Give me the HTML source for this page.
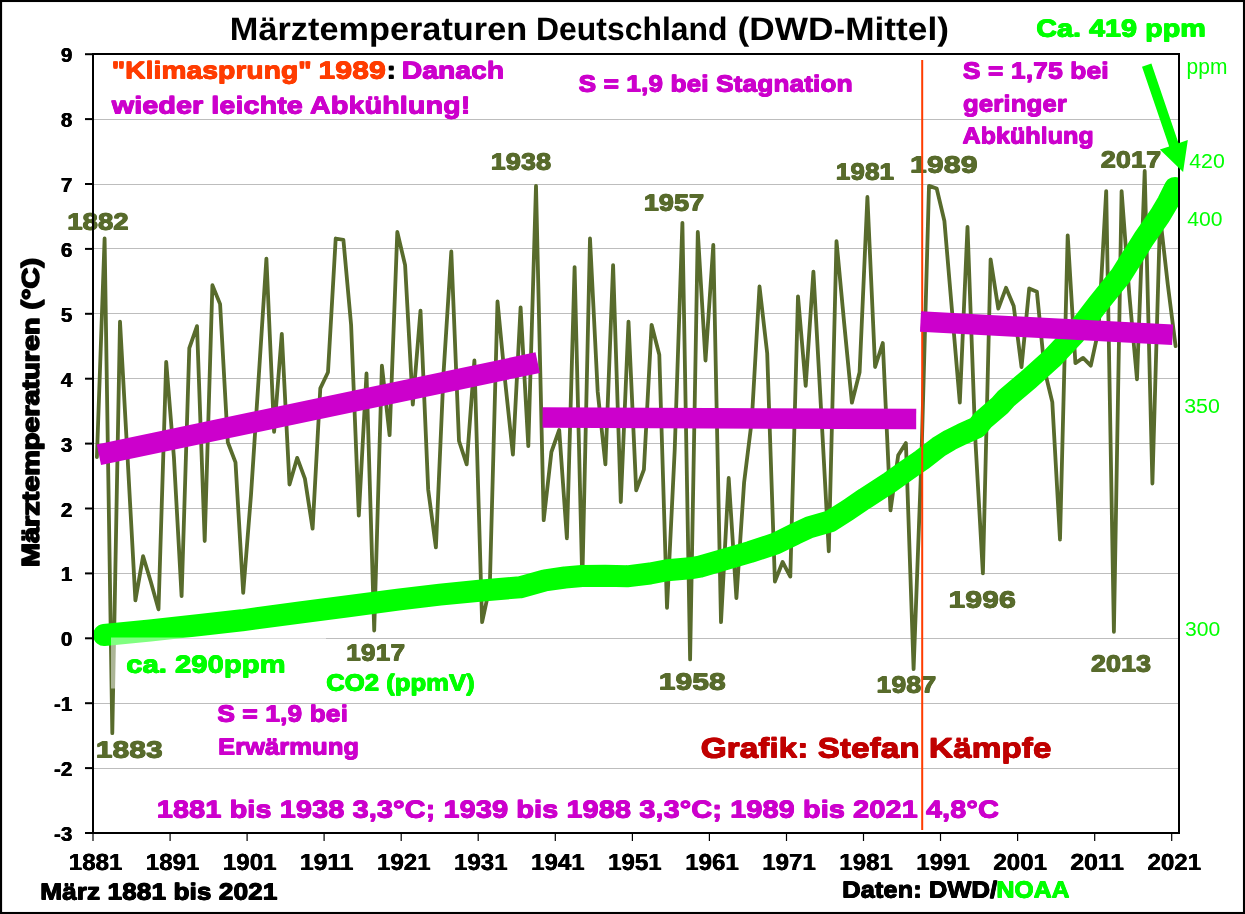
<!DOCTYPE html>
<html><head><meta charset="utf-8"><title>Märztemperaturen Deutschland</title>
<style>
html,body{margin:0;padding:0;background:#fff;}
svg{display:block;font-family:"Liberation Sans",sans-serif;will-change:transform;}
</style></head>
<body>
<svg width="1245" height="914" viewBox="0 0 1245 914">
<defs><clipPath id="plot"><rect x="93" y="54" width="1086" height="779"/></clipPath></defs>
<rect x="0" y="0" width="1245" height="914" fill="#fff"/>
<line x1="94" y1="768.5" x2="1178" y2="768.5" stroke="#BDBDBD" stroke-width="1"/>
<line x1="94" y1="703.5" x2="1178" y2="703.5" stroke="#BDBDBD" stroke-width="1"/>
<line x1="94" y1="638.5" x2="1178" y2="638.5" stroke="#BDBDBD" stroke-width="1"/>
<line x1="94" y1="573.5" x2="1178" y2="573.5" stroke="#BDBDBD" stroke-width="1"/>
<line x1="94" y1="508.5" x2="1178" y2="508.5" stroke="#BDBDBD" stroke-width="1"/>
<line x1="94" y1="443.5" x2="1178" y2="443.5" stroke="#BDBDBD" stroke-width="1"/>
<line x1="94" y1="378.5" x2="1178" y2="378.5" stroke="#BDBDBD" stroke-width="1"/>
<line x1="94" y1="313.5" x2="1178" y2="313.5" stroke="#BDBDBD" stroke-width="1"/>
<line x1="94" y1="248.5" x2="1178" y2="248.5" stroke="#BDBDBD" stroke-width="1"/>
<line x1="94" y1="184.5" x2="1178" y2="184.5" stroke="#BDBDBD" stroke-width="1"/>
<line x1="94" y1="119.5" x2="1178" y2="119.5" stroke="#BDBDBD" stroke-width="1"/>
<g clip-path="url(#plot)">
<polyline points="96.9,457.2 104.6,238.5 112.3,733.1 120.0,321.6 127.7,459.8 135.4,600.3 143.1,556.2 150.8,581.8 158.5,609.3 166.2,361.8 173.9,457.2 181.6,596.1 189.3,348.2 197.0,326.1 204.7,541.0 212.4,285.2 220.1,304.1 227.8,442.3 235.5,462.4 243.2,592.9 251.0,494.9 258.7,377.4 266.4,258.6 274.1,431.9 281.8,333.9 289.5,484.5 297.2,457.9 304.9,478.6 312.6,528.6 320.3,388.4 328.0,372.2 335.7,238.5 343.4,239.8 351.1,324.8 358.8,515.6 366.5,373.5 374.2,630.5 381.9,365.7 389.6,435.2 397.3,232.0 405.1,265.1 412.8,404.7 420.5,310.6 428.2,489.7 435.9,547.4 443.6,372.2 451.3,251.5 459.0,441.0 466.7,464.4 474.4,360.5 482.1,622.1 489.8,586.4 497.5,301.5 505.2,381.9 512.9,454.6 520.6,307.3 528.3,446.2 536.0,185.9 543.7,520.2 551.4,452.0 559.2,430.0 566.9,538.4 574.6,267.1 582.3,581.8 590.0,238.5 597.7,391.7 605.4,464.4 613.1,265.1 620.8,502.0 628.5,321.6 636.2,490.3 643.9,469.6 651.6,324.8 659.3,354.7 667.0,607.8 674.7,450.1 682.4,222.9 690.1,659.4 697.8,232.0 705.5,360.5 713.3,245.0 721.0,622.1 728.7,478.0 736.4,598.1 744.1,482.5 751.8,420.2 759.5,286.5 767.2,353.4 774.9,581.5 782.6,562.0 790.3,576.6 798.0,296.3 805.7,385.8 813.4,271.6 821.1,409.9 828.8,551.3 836.5,241.1 844.2,323.5 851.9,402.7 859.6,372.2 867.4,197.0 875.1,367.0 882.8,343.0 890.5,510.4 898.2,455.3 905.9,443.0 913.6,669.1 921.3,463.1 929.0,185.9 936.7,188.5 944.4,221.0 952.1,311.9 959.8,402.7 967.5,226.8 975.2,437.1 982.9,573.4 990.6,259.3 998.3,308.6 1006.0,287.8 1013.7,306.0 1021.5,367.0 1029.2,288.5 1036.9,291.7 1044.6,370.3 1052.3,402.1 1060.0,539.7 1067.7,235.3 1075.4,363.1 1083.1,357.9 1090.8,365.7 1098.5,330.0 1106.2,191.1 1113.9,631.8 1121.6,191.1 1129.3,294.3 1137.0,379.3 1144.7,171.0 1152.4,483.5 1160.1,216.4 1167.8,284.6 1175.6,346.2" fill="none" stroke="#586B2C" stroke-width="3.8" stroke-linejoin="round" stroke-linecap="round"/>
<path d="M104,635 L150,630.5 L200,625 L242,620.3 L300,612.5 L350,606 L398,599.6 L440,594.6 L482,590.5 L520,587.3 L545,580.3 L565,577.5 L582,576 L605,575.8 L627,576.3 L650,573.5 L667,570.3 L690,568.3 L700,566.6 L727,558.8 L750,552 L775,543.8 L795,534 L810,527.1 L830,521.4 L848,510 L865,498.4 L890,482.2 L905,471.5 L922,459.8 L939,446.6 L950,440 L962,434.1 L977,427.4 L983,420 L1000,405.4 L1006,398.6 L1029,379.1 L1052,358.4 L1075,333.9 L1098,304 L1121,275.3 L1144,238.5 L1160,215.5 L1168,202 L1175,188" fill="none" stroke="#00FF00" stroke-width="22" stroke-linejoin="round" stroke-linecap="round"/>
</g>
<rect x="111" y="637.5" width="215" height="51" fill="#fff" fill-opacity="0.5"/>
<g fill="#586B2C" transform="translate(67.2,230) skewX(0.05)"><text id="t1" font-size="23.2" font-weight="bold" textLength="61.5" lengthAdjust="spacingAndGlyphs">1882</text><use href="#t1" x="-0.45" y="-1"/><use href="#t1" x="0.45" y="-1"/><use href="#t1" x="-0.45" y="0"/><use href="#t1" x="0.45" y="0"/></g>
<g fill="#586B2C" transform="translate(490.6,170) skewX(0.05)"><text id="t2" font-size="23.2" font-weight="bold" textLength="60.6" lengthAdjust="spacingAndGlyphs">1938</text><use href="#t2" x="-0.45" y="-1"/><use href="#t2" x="0.45" y="-1"/><use href="#t2" x="-0.45" y="0"/><use href="#t2" x="0.45" y="0"/></g>
<g fill="#586B2C" transform="translate(643.7,211) skewX(0.05)"><text id="t3" font-size="23.2" font-weight="bold" textLength="60.5" lengthAdjust="spacingAndGlyphs">1957</text><use href="#t3" x="-0.45" y="-1"/><use href="#t3" x="0.45" y="-1"/><use href="#t3" x="-0.45" y="0"/><use href="#t3" x="0.45" y="0"/></g>
<g fill="#586B2C" transform="translate(835.8,180) skewX(0.05)"><text id="t4" font-size="23.2" font-weight="bold" textLength="58.3" lengthAdjust="spacingAndGlyphs">1981</text><use href="#t4" x="-0.45" y="-1"/><use href="#t4" x="0.45" y="-1"/><use href="#t4" x="-0.45" y="0"/><use href="#t4" x="0.45" y="0"/></g>
<g fill="#586B2C" transform="translate(909.9,173) skewX(0.05)"><text id="t5" font-size="23.2" font-weight="bold" textLength="67.8" lengthAdjust="spacingAndGlyphs">1989</text><use href="#t5" x="-0.45" y="-1"/><use href="#t5" x="0.45" y="-1"/><use href="#t5" x="-0.45" y="0"/><use href="#t5" x="0.45" y="0"/></g>
<g fill="#586B2C" transform="translate(1100.8,168) skewX(0.05)"><text id="t6" font-size="23.2" font-weight="bold" textLength="60.4" lengthAdjust="spacingAndGlyphs">2017</text><use href="#t6" x="-0.45" y="-1"/><use href="#t6" x="0.45" y="-1"/><use href="#t6" x="-0.45" y="0"/><use href="#t6" x="0.45" y="0"/></g>
<g fill="#586B2C" transform="translate(948.4,608) skewX(0.05)"><text id="t7" font-size="23.2" font-weight="bold" textLength="67.5" lengthAdjust="spacingAndGlyphs">1996</text><use href="#t7" x="-0.45" y="-1"/><use href="#t7" x="0.45" y="-1"/><use href="#t7" x="-0.45" y="0"/><use href="#t7" x="0.45" y="0"/></g>
<g fill="#586B2C" transform="translate(1091.0,672) skewX(0.05)"><text id="t8" font-size="23.2" font-weight="bold" textLength="60.0" lengthAdjust="spacingAndGlyphs">2013</text><use href="#t8" x="-0.45" y="-1"/><use href="#t8" x="0.45" y="-1"/><use href="#t8" x="-0.45" y="0"/><use href="#t8" x="0.45" y="0"/></g>
<g fill="#586B2C" transform="translate(876.4,693) skewX(0.05)"><text id="t9" font-size="23.2" font-weight="bold" textLength="59.8" lengthAdjust="spacingAndGlyphs">1987</text><use href="#t9" x="-0.45" y="-1"/><use href="#t9" x="0.45" y="-1"/><use href="#t9" x="-0.45" y="0"/><use href="#t9" x="0.45" y="0"/></g>
<g fill="#586B2C" transform="translate(658.7,690) skewX(0.05)"><text id="t10" font-size="23.2" font-weight="bold" textLength="67.0" lengthAdjust="spacingAndGlyphs">1958</text><use href="#t10" x="-0.45" y="-1"/><use href="#t10" x="0.45" y="-1"/><use href="#t10" x="-0.45" y="0"/><use href="#t10" x="0.45" y="0"/></g>
<g fill="#586B2C" transform="translate(346.1,661) skewX(0.05)"><text id="t11" font-size="23.2" font-weight="bold" textLength="59.1" lengthAdjust="spacingAndGlyphs">1917</text><use href="#t11" x="-0.45" y="-1"/><use href="#t11" x="0.45" y="-1"/><use href="#t11" x="-0.45" y="0"/><use href="#t11" x="0.45" y="0"/></g>
<g fill="#586B2C" transform="translate(95.7,758) skewX(0.05)"><text id="t12" font-size="23.2" font-weight="bold" textLength="67.0" lengthAdjust="spacingAndGlyphs">1883</text><use href="#t12" x="-0.45" y="-1"/><use href="#t12" x="0.45" y="-1"/><use href="#t12" x="-0.45" y="0"/><use href="#t12" x="0.45" y="0"/></g>
<line x1="922.2" y1="60" x2="922.2" y2="830" stroke="#FF3C00" stroke-width="2"/>
<g clip-path="url(#plot)">
<line x1="98.9" y1="454.8" x2="537.7" y2="362.6" stroke="#CC00CC" stroke-width="21"/>
<line x1="542.6" y1="417.6" x2="916.2" y2="419" stroke="#CC00CC" stroke-width="20.5"/>
<line x1="920.5" y1="321.6" x2="1172.6" y2="334.8" stroke="#CC00CC" stroke-width="20.5"/>
</g>
<rect x="93" y="54" width="1086" height="779" fill="none" stroke="#000" stroke-width="2"/>
<line x1="85" y1="833.0" x2="93" y2="833.0" stroke="#000" stroke-width="2"/>
<line x1="85" y1="768.1" x2="93" y2="768.1" stroke="#000" stroke-width="2"/>
<line x1="85" y1="703.2" x2="93" y2="703.2" stroke="#000" stroke-width="2"/>
<line x1="85" y1="638.3" x2="93" y2="638.3" stroke="#000" stroke-width="2"/>
<line x1="85" y1="573.4" x2="93" y2="573.4" stroke="#000" stroke-width="2"/>
<line x1="85" y1="508.5" x2="93" y2="508.5" stroke="#000" stroke-width="2"/>
<line x1="85" y1="443.6" x2="93" y2="443.6" stroke="#000" stroke-width="2"/>
<line x1="85" y1="378.7" x2="93" y2="378.7" stroke="#000" stroke-width="2"/>
<line x1="85" y1="313.8" x2="93" y2="313.8" stroke="#000" stroke-width="2"/>
<line x1="85" y1="248.9" x2="93" y2="248.9" stroke="#000" stroke-width="2"/>
<line x1="85" y1="184.0" x2="93" y2="184.0" stroke="#000" stroke-width="2"/>
<line x1="85" y1="119.1" x2="93" y2="119.1" stroke="#000" stroke-width="2"/>
<line x1="85" y1="54.2" x2="93" y2="54.2" stroke="#000" stroke-width="2"/>
<line x1="93.0" y1="833" x2="93.0" y2="841" stroke="#000" stroke-width="1.2"/>
<line x1="170.1" y1="833" x2="170.1" y2="841" stroke="#000" stroke-width="1.2"/>
<line x1="247.1" y1="833" x2="247.1" y2="841" stroke="#000" stroke-width="1.2"/>
<line x1="324.1" y1="833" x2="324.1" y2="841" stroke="#000" stroke-width="1.2"/>
<line x1="401.2" y1="833" x2="401.2" y2="841" stroke="#000" stroke-width="1.2"/>
<line x1="478.2" y1="833" x2="478.2" y2="841" stroke="#000" stroke-width="1.2"/>
<line x1="555.3" y1="833" x2="555.3" y2="841" stroke="#000" stroke-width="1.2"/>
<line x1="632.4" y1="833" x2="632.4" y2="841" stroke="#000" stroke-width="1.2"/>
<line x1="709.4" y1="833" x2="709.4" y2="841" stroke="#000" stroke-width="1.2"/>
<line x1="786.5" y1="833" x2="786.5" y2="841" stroke="#000" stroke-width="1.2"/>
<line x1="863.5" y1="833" x2="863.5" y2="841" stroke="#000" stroke-width="1.2"/>
<line x1="940.5" y1="833" x2="940.5" y2="841" stroke="#000" stroke-width="1.2"/>
<line x1="1017.6" y1="833" x2="1017.6" y2="841" stroke="#000" stroke-width="1.2"/>
<line x1="1094.7" y1="833" x2="1094.7" y2="841" stroke="#000" stroke-width="1.2"/>
<line x1="1171.7" y1="833" x2="1171.7" y2="841" stroke="#000" stroke-width="1.2"/>
<polygon points="1142.0,66.8 1151.4,63.6 1178.55,143.22 1187.83,140.06 1183.1,171.9 1159.89,149.58 1169.17,146.42" fill="#00FF00"/>
<rect x="1.05" y="1" width="1242.95" height="912" fill="none" stroke="#000" stroke-width="2.1"/>
<g transform="translate(229.8,40.2) skewX(0.05)"><text font-size="32.5" font-weight="bold" fill="#000" textLength="297.4" lengthAdjust="spacingAndGlyphs">Märztemperaturen</text></g>
<g transform="translate(536,40.2) skewX(0.05)"><text font-size="32.5" font-weight="bold" fill="#000" textLength="191.5" lengthAdjust="spacingAndGlyphs">Deutschland</text></g>
<g transform="translate(737.5,40.2) skewX(0.05)"><text font-size="32.5" font-weight="bold" fill="#000" textLength="211.5" lengthAdjust="spacingAndGlyphs">(DWD-Mittel)</text></g>
<g fill="#000"><text id="yl0" x="72.3" y="841.0" font-size="20.5" font-weight="bold" text-anchor="end">-3</text><use href="#yl0" x="0.3"/><use href="#yl0" x="-0.3"/></g>
<g fill="#000"><text id="yl1" x="72.3" y="776.1" font-size="20.5" font-weight="bold" text-anchor="end">-2</text><use href="#yl1" x="0.3"/><use href="#yl1" x="-0.3"/></g>
<g fill="#000"><text id="yl2" x="72.3" y="711.2" font-size="20.5" font-weight="bold" text-anchor="end">-1</text><use href="#yl2" x="0.3"/><use href="#yl2" x="-0.3"/></g>
<g fill="#000"><text id="yl3" x="72.3" y="646.3" font-size="20.5" font-weight="bold" text-anchor="end">0</text><use href="#yl3" x="0.3"/><use href="#yl3" x="-0.3"/></g>
<g fill="#000"><text id="yl4" x="72.3" y="581.4" font-size="20.5" font-weight="bold" text-anchor="end">1</text><use href="#yl4" x="0.3"/><use href="#yl4" x="-0.3"/></g>
<g fill="#000"><text id="yl5" x="72.3" y="516.5" font-size="20.5" font-weight="bold" text-anchor="end">2</text><use href="#yl5" x="0.3"/><use href="#yl5" x="-0.3"/></g>
<g fill="#000"><text id="yl6" x="72.3" y="451.6" font-size="20.5" font-weight="bold" text-anchor="end">3</text><use href="#yl6" x="0.3"/><use href="#yl6" x="-0.3"/></g>
<g fill="#000"><text id="yl7" x="72.3" y="386.7" font-size="20.5" font-weight="bold" text-anchor="end">4</text><use href="#yl7" x="0.3"/><use href="#yl7" x="-0.3"/></g>
<g fill="#000"><text id="yl8" x="72.3" y="321.8" font-size="20.5" font-weight="bold" text-anchor="end">5</text><use href="#yl8" x="0.3"/><use href="#yl8" x="-0.3"/></g>
<g fill="#000"><text id="yl9" x="72.3" y="256.9" font-size="20.5" font-weight="bold" text-anchor="end">6</text><use href="#yl9" x="0.3"/><use href="#yl9" x="-0.3"/></g>
<g fill="#000"><text id="yl10" x="72.3" y="192.0" font-size="20.5" font-weight="bold" text-anchor="end">7</text><use href="#yl10" x="0.3"/><use href="#yl10" x="-0.3"/></g>
<g fill="#000"><text id="yl11" x="72.3" y="127.1" font-size="20.5" font-weight="bold" text-anchor="end">8</text><use href="#yl11" x="0.3"/><use href="#yl11" x="-0.3"/></g>
<g fill="#000"><text id="yl12" x="72.3" y="62.2" font-size="20.5" font-weight="bold" text-anchor="end">9</text><use href="#yl12" x="0.3"/><use href="#yl12" x="-0.3"/></g>
<g fill="#000" transform="translate(68.8,870) skewX(0.05)"><text id="xl1881" font-size="23.3" font-weight="bold" textLength="53.6" lengthAdjust="spacingAndGlyphs">1881</text><use href="#xl1881" x="0.3"/><use href="#xl1881" x="-0.3"/></g>
<g fill="#000" transform="translate(145.8,870) skewX(0.05)"><text id="xl1891" font-size="23.3" font-weight="bold" textLength="53.6" lengthAdjust="spacingAndGlyphs">1891</text><use href="#xl1891" x="0.3"/><use href="#xl1891" x="-0.3"/></g>
<g fill="#000" transform="translate(222.9,870) skewX(0.05)"><text id="xl1901" font-size="23.3" font-weight="bold" textLength="53.6" lengthAdjust="spacingAndGlyphs">1901</text><use href="#xl1901" x="0.3"/><use href="#xl1901" x="-0.3"/></g>
<g fill="#000" transform="translate(299.9,870) skewX(0.05)"><text id="xl1911" font-size="23.3" font-weight="bold" textLength="53.6" lengthAdjust="spacingAndGlyphs">1911</text><use href="#xl1911" x="0.3"/><use href="#xl1911" x="-0.3"/></g>
<g fill="#000" transform="translate(377.0,870) skewX(0.05)"><text id="xl1921" font-size="23.3" font-weight="bold" textLength="53.6" lengthAdjust="spacingAndGlyphs">1921</text><use href="#xl1921" x="0.3"/><use href="#xl1921" x="-0.3"/></g>
<g fill="#000" transform="translate(454.0,870) skewX(0.05)"><text id="xl1931" font-size="23.3" font-weight="bold" textLength="53.6" lengthAdjust="spacingAndGlyphs">1931</text><use href="#xl1931" x="0.3"/><use href="#xl1931" x="-0.3"/></g>
<g fill="#000" transform="translate(531.1,870) skewX(0.05)"><text id="xl1941" font-size="23.3" font-weight="bold" textLength="53.6" lengthAdjust="spacingAndGlyphs">1941</text><use href="#xl1941" x="0.3"/><use href="#xl1941" x="-0.3"/></g>
<g fill="#000" transform="translate(608.1,870) skewX(0.05)"><text id="xl1951" font-size="23.3" font-weight="bold" textLength="53.6" lengthAdjust="spacingAndGlyphs">1951</text><use href="#xl1951" x="0.3"/><use href="#xl1951" x="-0.3"/></g>
<g fill="#000" transform="translate(685.2,870) skewX(0.05)"><text id="xl1961" font-size="23.3" font-weight="bold" textLength="53.6" lengthAdjust="spacingAndGlyphs">1961</text><use href="#xl1961" x="0.3"/><use href="#xl1961" x="-0.3"/></g>
<g fill="#000" transform="translate(762.2,870) skewX(0.05)"><text id="xl1971" font-size="23.3" font-weight="bold" textLength="53.6" lengthAdjust="spacingAndGlyphs">1971</text><use href="#xl1971" x="0.3"/><use href="#xl1971" x="-0.3"/></g>
<g fill="#000" transform="translate(839.3,870) skewX(0.05)"><text id="xl1981" font-size="23.3" font-weight="bold" textLength="53.6" lengthAdjust="spacingAndGlyphs">1981</text><use href="#xl1981" x="0.3"/><use href="#xl1981" x="-0.3"/></g>
<g fill="#000" transform="translate(916.3,870) skewX(0.05)"><text id="xl1991" font-size="23.3" font-weight="bold" textLength="53.6" lengthAdjust="spacingAndGlyphs">1991</text><use href="#xl1991" x="0.3"/><use href="#xl1991" x="-0.3"/></g>
<g fill="#000" transform="translate(993.4,870) skewX(0.05)"><text id="xl2001" font-size="23.3" font-weight="bold" textLength="53.6" lengthAdjust="spacingAndGlyphs">2001</text><use href="#xl2001" x="0.3"/><use href="#xl2001" x="-0.3"/></g>
<g fill="#000" transform="translate(1070.4,870) skewX(0.05)"><text id="xl2011" font-size="23.3" font-weight="bold" textLength="53.6" lengthAdjust="spacingAndGlyphs">2011</text><use href="#xl2011" x="0.3"/><use href="#xl2011" x="-0.3"/></g>
<g fill="#000" transform="translate(1147.5,870) skewX(0.05)"><text id="xl2021" font-size="23.3" font-weight="bold" textLength="53.6" lengthAdjust="spacingAndGlyphs">2021</text><use href="#xl2021" x="0.3"/><use href="#xl2021" x="-0.3"/></g>
<text transform="translate(38.8,567) rotate(-90)" font-size="23.8" font-weight="bold" fill="#000" stroke="#000" stroke-width="1.6" stroke-linejoin="round" textLength="309" lengthAdjust="spacingAndGlyphs">Märztemperaturen (°C)</text>
<g fill="#FF3C00" transform="translate(111.7,79) skewX(0.05)"><text id="t13" font-size="24.2" font-weight="bold" textLength="200.0" lengthAdjust="spacingAndGlyphs">"Klimasprung"</text><use href="#t13" x="-0.45" y="-1"/><use href="#t13" x="0.45" y="-1"/><use href="#t13" x="-0.45" y="0"/><use href="#t13" x="0.45" y="0"/></g>
<g fill="#FF3C00" transform="translate(318.4,79) skewX(0.05)"><text id="t14" font-size="24.2" font-weight="bold" textLength="67.5" lengthAdjust="spacingAndGlyphs">1989</text><use href="#t14" x="-0.45" y="-1"/><use href="#t14" x="0.45" y="-1"/><use href="#t14" x="-0.45" y="0"/><use href="#t14" x="0.45" y="0"/></g>
<g fill="#000" transform="translate(386.7,79) skewX(0.05)"><text id="t15" font-size="24.2" font-weight="bold" textLength="9.0" lengthAdjust="spacingAndGlyphs">:</text><use href="#t15" x="-0.45" y="-1"/><use href="#t15" x="0.45" y="-1"/><use href="#t15" x="-0.45" y="0"/><use href="#t15" x="0.45" y="0"/></g>
<g fill="#CC00CC" transform="translate(401.7,79) skewX(0.05)"><text id="t16" font-size="24.2" font-weight="bold" textLength="102.5" lengthAdjust="spacingAndGlyphs">Danach</text><use href="#t16" x="-0.45" y="-1"/><use href="#t16" x="0.45" y="-1"/><use href="#t16" x="-0.45" y="0"/><use href="#t16" x="0.45" y="0"/></g>
<g fill="#CC00CC" transform="translate(111.7,114) skewX(0.05)"><text id="t17" font-size="24.2" font-weight="bold" textLength="358.7" lengthAdjust="spacingAndGlyphs">wieder leichte Abkühlung!</text><use href="#t17" x="-0.45" y="-1"/><use href="#t17" x="0.45" y="-1"/><use href="#t17" x="-0.45" y="0"/><use href="#t17" x="0.45" y="0"/></g>
<g fill="#CC00CC" transform="translate(578.5,92) skewX(0.05)"><text id="t18" font-size="23.2" font-weight="bold" textLength="274.2" lengthAdjust="spacingAndGlyphs">S = 1,9 bei Stagnation</text><use href="#t18" x="-0.45" y="-1"/><use href="#t18" x="0.45" y="-1"/><use href="#t18" x="-0.45" y="0"/><use href="#t18" x="0.45" y="0"/></g>
<g fill="#CC00CC" transform="translate(962.7,79) skewX(0.05)"><text id="t19" font-size="23.2" font-weight="bold" textLength="146.0" lengthAdjust="spacingAndGlyphs">S = 1,75 bei</text><use href="#t19" x="-0.45" y="-1"/><use href="#t19" x="0.45" y="-1"/><use href="#t19" x="-0.45" y="0"/><use href="#t19" x="0.45" y="0"/></g>
<g fill="#CC00CC" transform="translate(962.9,112) skewX(0.05)"><text id="t20" font-size="23.2" font-weight="bold" textLength="104.1" lengthAdjust="spacingAndGlyphs">geringer</text><use href="#t20" x="-0.45" y="-1"/><use href="#t20" x="0.45" y="-1"/><use href="#t20" x="-0.45" y="0"/><use href="#t20" x="0.45" y="0"/></g>
<g fill="#CC00CC" transform="translate(962.5,144) skewX(0.05)"><text id="t21" font-size="23.2" font-weight="bold" textLength="131.2" lengthAdjust="spacingAndGlyphs">Abkühlung</text><use href="#t21" x="-0.45" y="-1"/><use href="#t21" x="0.45" y="-1"/><use href="#t21" x="-0.45" y="0"/><use href="#t21" x="0.45" y="0"/></g>
<g fill="#00FF00" transform="translate(1036.2,37) skewX(0.05)"><text id="t22" font-size="24.2" font-weight="bold" textLength="169.7" lengthAdjust="spacingAndGlyphs">Ca. 419 ppm</text><use href="#t22" x="-0.45" y="-1"/><use href="#t22" x="0.45" y="-1"/><use href="#t22" x="-0.45" y="0"/><use href="#t22" x="0.45" y="0"/></g>
<g fill="#00FF00" transform="translate(126.2,673) skewX(0.05)"><text id="t23" font-size="24.2" font-weight="bold" textLength="159.5" lengthAdjust="spacingAndGlyphs">ca. 290ppm</text><use href="#t23" x="-0.45" y="-1"/><use href="#t23" x="0.45" y="-1"/><use href="#t23" x="-0.45" y="0"/><use href="#t23" x="0.45" y="0"/></g>
<g fill="#00FF00" transform="translate(326.2,691) skewX(0.05)"><text id="t24" font-size="23.2" font-weight="bold" textLength="148.5" lengthAdjust="spacingAndGlyphs">CO2 (ppmV)</text><use href="#t24" x="-0.45" y="-1"/><use href="#t24" x="0.45" y="-1"/><use href="#t24" x="-0.45" y="0"/><use href="#t24" x="0.45" y="0"/></g>
<g fill="#CC00CC" transform="translate(217.2,722) skewX(0.05)"><text id="t25" font-size="23.2" font-weight="bold" textLength="130.8" lengthAdjust="spacingAndGlyphs">S = 1,9 bei</text><use href="#t25" x="-0.45" y="-1"/><use href="#t25" x="0.45" y="-1"/><use href="#t25" x="-0.45" y="0"/><use href="#t25" x="0.45" y="0"/></g>
<g fill="#CC00CC" transform="translate(218.1,755) skewX(0.05)"><text id="t26" font-size="23.2" font-weight="bold" textLength="140.9" lengthAdjust="spacingAndGlyphs">Erwärmung</text><use href="#t26" x="-0.45" y="-1"/><use href="#t26" x="0.45" y="-1"/><use href="#t26" x="-0.45" y="0"/><use href="#t26" x="0.45" y="0"/></g>
<g fill="#C00000" transform="translate(700.7,758) skewX(0.05)"><text id="t27" font-size="27.9" font-weight="bold" textLength="350.8" lengthAdjust="spacingAndGlyphs">Grafik: Stefan Kämpfe</text><use href="#t27" x="-0.45" y="-1"/><use href="#t27" x="0.45" y="-1"/><use href="#t27" x="-0.45" y="0"/><use href="#t27" x="0.45" y="0"/></g>
<g fill="#CC00CC" transform="translate(156.7,818) skewX(0.05)"><text id="t28" font-size="24.2" font-weight="bold" textLength="842.3" lengthAdjust="spacingAndGlyphs">1881 bis 1938 3,3°C; 1939 bis 1988 3,3°C; 1989 bis 2021 4,8°C</text><use href="#t28" x="-0.45" y="-1"/><use href="#t28" x="0.45" y="-1"/><use href="#t28" x="-0.45" y="0"/><use href="#t28" x="0.45" y="0"/></g>
<g fill="#000" transform="translate(40.2,900) skewX(0.05)"><text id="t29" font-size="23.2" font-weight="bold" textLength="237.2" lengthAdjust="spacingAndGlyphs">März 1881 bis 2021</text><use href="#t29" x="-0.45" y="-1"/><use href="#t29" x="0.45" y="-1"/><use href="#t29" x="-0.45" y="0"/><use href="#t29" x="0.45" y="0"/></g>
<g fill="#000" transform="translate(842.2,898) skewX(0.05)"><text id="t30" font-size="23.2" font-weight="bold" textLength="154.9" lengthAdjust="spacingAndGlyphs">Daten: DWD/</text><use href="#t30" x="-0.45" y="-1"/><use href="#t30" x="0.45" y="-1"/><use href="#t30" x="-0.45" y="0"/><use href="#t30" x="0.45" y="0"/></g>
<g fill="#00FF00" transform="translate(996.5,898) skewX(0.05)"><text id="t31" font-size="23.2" font-weight="bold" textLength="73.0" lengthAdjust="spacingAndGlyphs">NOAA</text><use href="#t31" x="-0.45" y="-1"/><use href="#t31" x="0.45" y="-1"/><use href="#t31" x="-0.45" y="0"/><use href="#t31" x="0.45" y="0"/></g>
<text x="1186.6" y="73.9" font-size="21.4" font-weight="normal" fill="#00FF00" textLength="40.8" lengthAdjust="spacingAndGlyphs">ppm</text>
<text x="1189.2" y="168.3" font-size="20.5" font-weight="normal" fill="#00FF00" textLength="35.6" lengthAdjust="spacingAndGlyphs">420</text>
<text x="1187.2" y="226" font-size="20.5" font-weight="normal" fill="#00FF00" textLength="35.3" lengthAdjust="spacingAndGlyphs">400</text>
<text x="1184.2" y="412.9" font-size="20.5" font-weight="normal" fill="#00FF00" textLength="35.7" lengthAdjust="spacingAndGlyphs">350</text>
<text x="1185" y="635.8" font-size="20.5" font-weight="normal" fill="#00FF00" textLength="35.3" lengthAdjust="spacingAndGlyphs">300</text>
</svg>
</body></html>
